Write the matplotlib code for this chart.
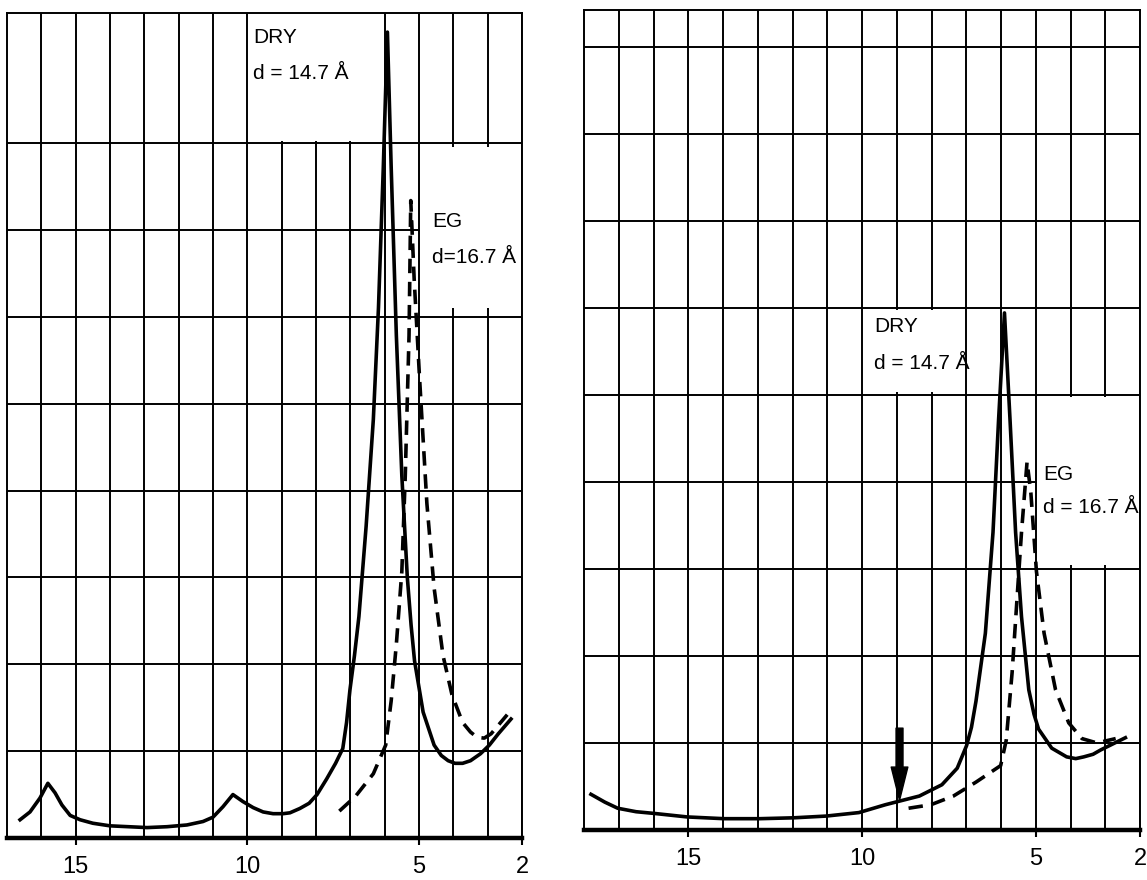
import matplotlib
matplotlib.use("Agg")
import matplotlib.pyplot as plt
from matplotlib.patches import Rectangle

# --- left panel (2-theta in degrees, intensity in chart-paper units) ---
dry_l_x = [16.62, 16.33, 16.04, 15.81, 15.6, 15.4, 15.16, 14.87, 14.5, 14.0,
           12.92, 12.34, 11.76, 11.29, 11.0, 10.71, 10.42, 10.13, 9.83, 9.54,
           9.25, 8.96, 8.76, 8.47, 8.2, 7.97, 7.69, 7.43, 7.22, 7.11, 7.01,
           6.88, 6.75, 6.54, 6.33, 6.18, 6.04, 5.92, 5.81, 5.66, 5.5, 5.34,
           5.23, 5.13, 4.88, 4.56, 4.35, 4.15, 3.95, 3.73, 3.5, 3.21, 2.95,
           2.69, 2.32]
dry_l_y = [0.21, 0.30, 0.46, 0.63, 0.52, 0.38, 0.26, 0.21, 0.17, 0.14,
           0.12, 0.13, 0.15, 0.19, 0.24, 0.36, 0.5, 0.42, 0.35, 0.3,
           0.28, 0.28, 0.29, 0.34, 0.4, 0.5, 0.68, 0.86, 1.03, 1.33, 1.71,
           2.1, 2.55, 3.59, 4.82, 6.11, 7.72, 9.28, 7.72, 5.79, 4.17, 3.0,
           2.45, 2.04, 1.45, 1.07, 0.95, 0.89, 0.86, 0.86, 0.89, 0.97, 1.07,
           1.2, 1.37]
eg_l_x = [7.32, 6.85, 6.33, 5.97, 5.81, 5.66, 5.5, 5.4, 5.29, 5.24, 5.14,
          4.98, 4.77, 4.56, 4.3, 4.04, 3.73, 3.5, 3.31, 3.1, 2.9, 2.43]
eg_l_y = [0.31, 0.48, 0.74, 1.07, 1.58, 2.23, 3.07, 4.17, 5.79, 7.34, 6.43,
          5.27, 3.85, 2.88, 2.1, 1.65, 1.33, 1.22, 1.16, 1.15, 1.2, 1.42]

# --- right panel ---
dry_r_x = [17.8, 17.4, 17.03, 16.5, 15.97, 15.03, 13.97, 12.94, 11.97, 11.03,
           10.09, 9.33, 8.94, 8.35, 7.7, 7.26, 6.99, 6.85, 6.72, 6.45, 6.23,
           6.07, 5.9, 5.74, 5.58, 5.41, 5.2, 5.05, 4.92, 4.54, 4.11, 3.85,
           3.62, 3.35, 3.13, 2.42]
dry_r_y = [0.41, 0.32, 0.25, 0.21, 0.19, 0.15, 0.13, 0.13, 0.14, 0.16,
           0.2, 0.29, 0.33, 0.39, 0.52, 0.71, 0.97, 1.18, 1.48, 2.26, 3.42,
           4.71, 5.94, 4.71, 3.42, 2.45, 1.61, 1.33, 1.16, 0.94, 0.84, 0.82,
           0.84, 0.87, 0.92, 1.06]
eg_r_x = [8.66, 8.02, 7.37, 6.72, 6.01, 5.85, 5.68, 5.52, 5.41, 5.25, 5.14,
          4.98, 4.76, 4.43, 4.05, 3.67, 3.24, 2.7]
eg_r_y = [0.25, 0.29, 0.39, 0.55, 0.74, 1.03, 1.81, 2.77, 3.42, 4.23, 3.87,
          2.97, 2.26, 1.61, 1.23, 1.05, 1.0, 1.05]

tick_vals = [15, 10, 5, 2]
hgrid_l = [1, 2, 3, 4, 5, 6, 7, 8]
hgrid_r = [1, 2, 3, 4, 5, 6, 7, 8, 9]
arrow_x = 8.92
arrow_top, arrow_tip = 1.17, 0.34

font = "Liberation Sans"

fig = plt.figure(figsize=(11.47, 8.8), dpi=100)
ax_l = fig.add_axes([7 / 1147, 42 / 880, 515 / 1147, 825 / 880])
ax_r = fig.add_axes([584 / 1147, 50 / 880, 556 / 1147, 820 / 880])


def setup(ax, xmax, ymax, hgrid):
    ax.set_xlim(xmax, 2)
    ax.set_ylim(0, ymax)
    ax.set_xticks(tick_vals)
    ax.set_xticklabels([str(v) for v in tick_vals], family=font, fontsize=17)
    ax.set_xticks(range(3, xmax), minor=True)
    ax.set_yticks(hgrid)
    ax.set_yticklabels([])
    ax.tick_params(axis="x", which="major", length=5, width=1.5, pad=8,
                   direction="out")
    ax.tick_params(axis="x", which="minor", length=0)
    ax.tick_params(axis="y", length=0)
    ax.set_axisbelow(True)
    ax.grid(True, which="both", color="black", lw=1.4)
    for s in ("left", "top", "right"):
        ax.spines[s].set_linewidth(1.4)
    ax.spines["bottom"].set_linewidth(3.2)


def mask(ax, x0, x1, y0, y1):
    ax.add_patch(Rectangle((x0, y0), x1 - x0, y1 - y0, facecolor="white",
                           edgecolor="none", zorder=1))


setup(ax_l, 17, 9.5, hgrid_l)
setup(ax_r, 18, 9.42, hgrid_r)

# white label boxes pasted over the chart paper
mask(ax_l, 9.96, 6.04, 8.03, 9.5)
mask(ax_l, 4.96, 2.04, 6.1, 7.96)
mask(ax_r, 9.96, 7.15, 5.03, 5.97)
mask(ax_r, 4.96, 2.04, 3.04, 4.97)

for ax, dx, dy, ex, ey in ((ax_l, dry_l_x, dry_l_y, eg_l_x, eg_l_y),
                           (ax_r, dry_r_x, dry_r_y, eg_r_x, eg_r_y)):
    ax.plot(dx, dy, color="black", lw=2.6, solid_joinstyle="round", zorder=3)
    ax.plot(ex, ey, color="black", lw=2.6, ls=(0, (4, 2.4)), zorder=3)

txt = dict(fontsize=15, color="black", zorder=4, va="center", family=font)
ax_l.text(9.83, 9.22, "DRY", **txt)
ax_l.text(9.83, 8.8, "d = 14.7 Å", **txt)
ax_l.text(4.62, 7.1, "EG", **txt)
ax_l.text(4.62, 6.68, "d=16.7 Å", **txt)
ax_r.text(9.65, 5.78, "DRY", **txt)
ax_r.text(9.65, 5.36, "d = 14.7 Å", **txt)
ax_r.text(4.78, 4.08, "EG", **txt)
ax_r.text(4.78, 3.7, "d = 16.7 Å", **txt)

ax_r.annotate("", xy=(arrow_x, arrow_tip), xytext=(arrow_x, arrow_top),
              arrowprops=dict(width=5, headwidth=12, headlength=24,
                              color="black", shrink=0), zorder=4)

fig.savefig("out.png", dpi=100, facecolor="white")
